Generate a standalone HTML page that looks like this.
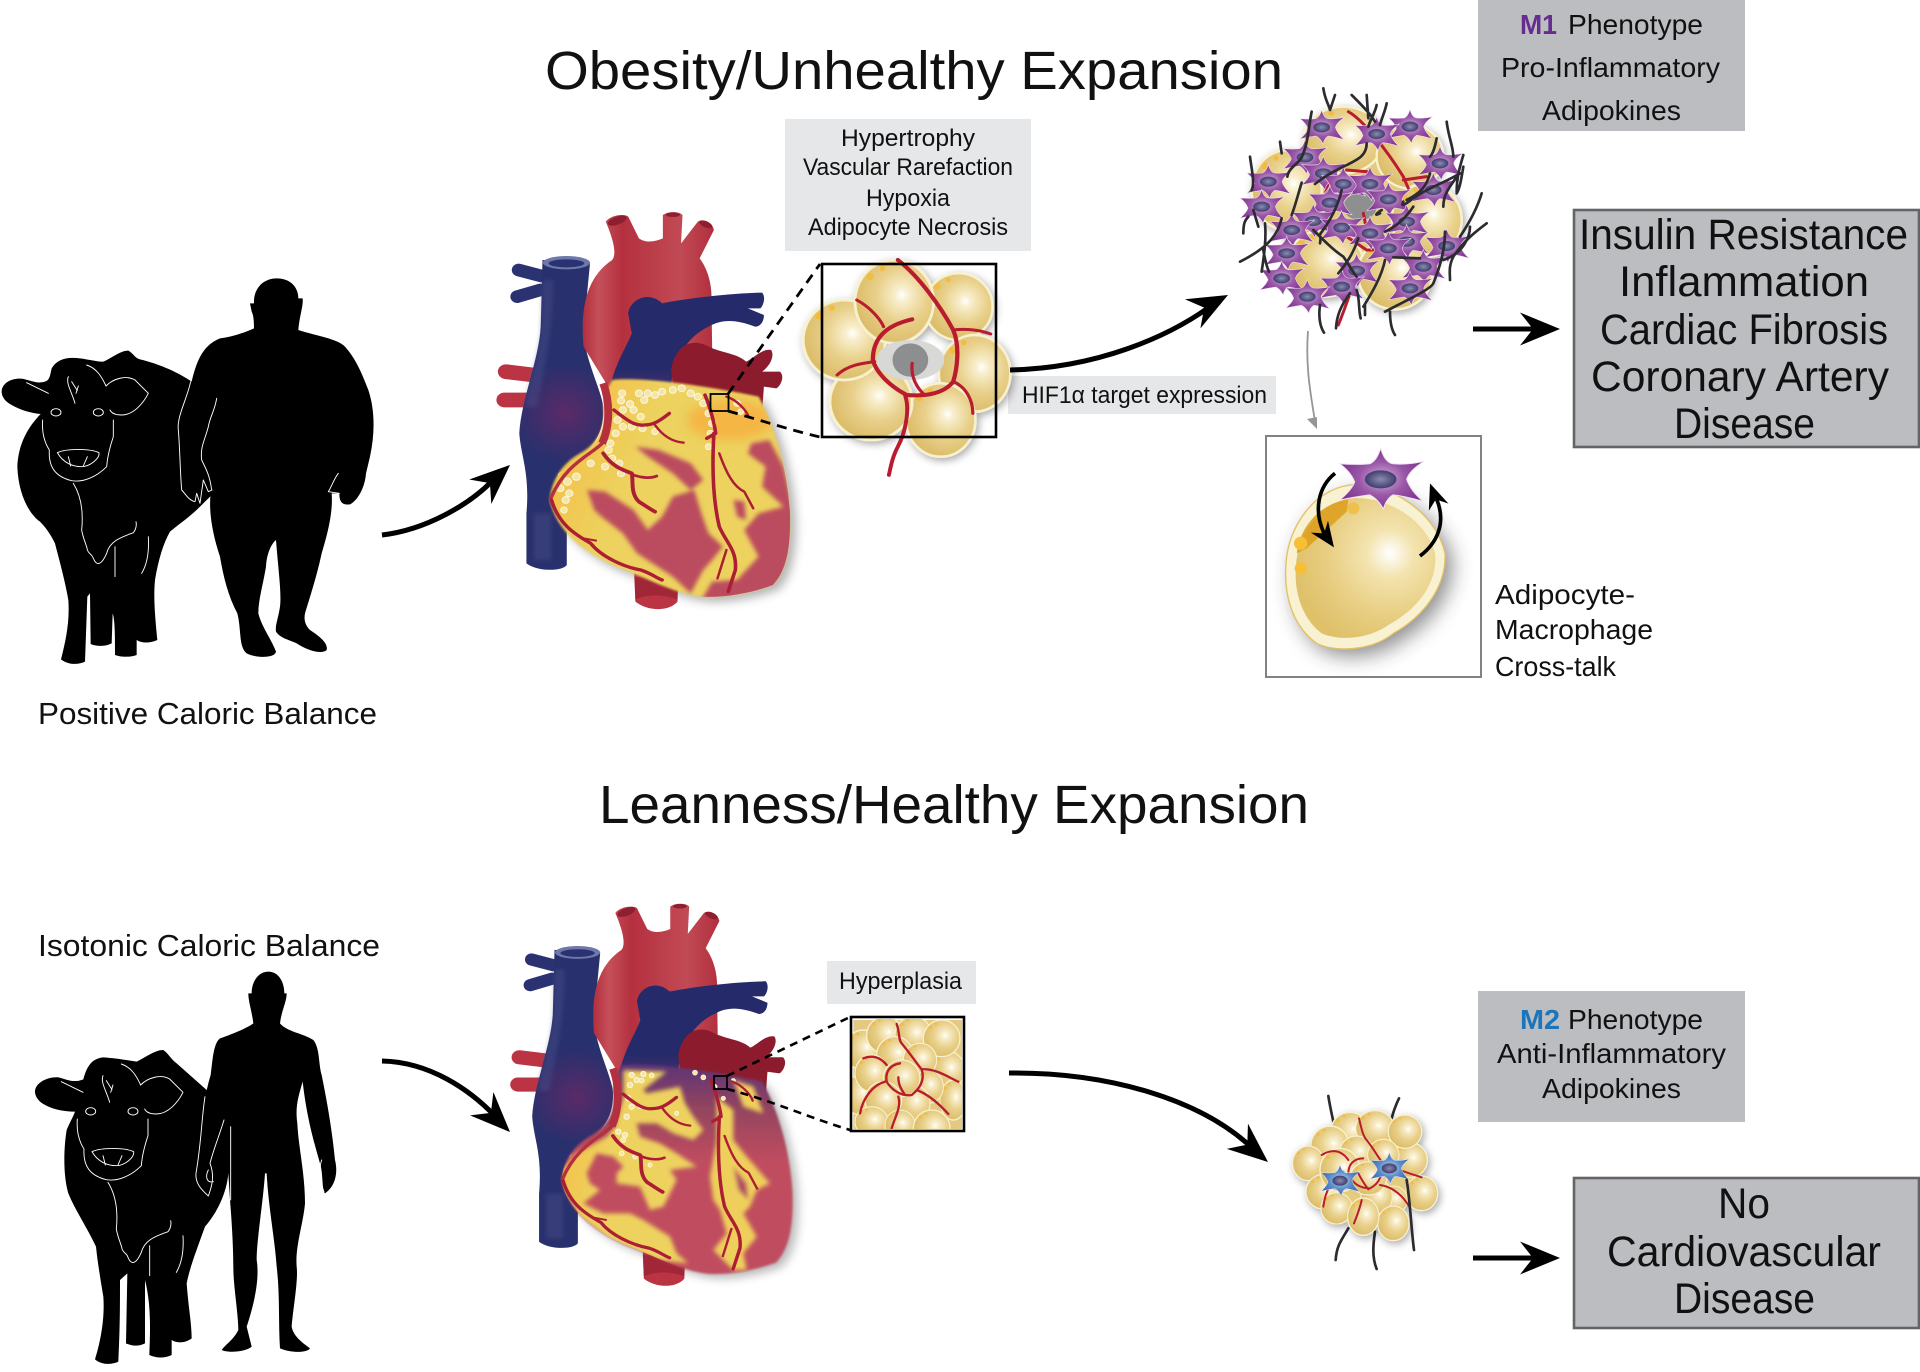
<!DOCTYPE html>
<html><head><meta charset="utf-8"><title>Adipose expansion</title>
<style>
html,body{margin:0;padding:0;background:#fff}
svg{display:block}
text{font-family:"Liberation Sans",sans-serif;fill:#111}
.a{stroke:#000;fill:none;stroke-width:5}
.w{stroke:#fff;fill:none;stroke-width:2.800;stroke-linecap:round;stroke-linejoin:round}
.art{stroke:#ab1e33;fill:none;stroke-linecap:round;stroke-linejoin:round}
.fib{stroke:#2c2c30;fill:none;stroke-width:8;stroke-linecap:round;stroke-linejoin:round}
.rv{stroke:#b81c2e;fill:none;stroke-linecap:round;stroke-linejoin:round}
.d{fill:#f4e6a6;stroke:#fbf6dc;stroke-width:3}
</style></head><body>
<svg xmlns="http://www.w3.org/2000/svg" width="1920" height="1372" viewBox="0 0 1920 1372">
<defs>
<filter id="b2" x="-20%" y="-20%" width="140%" height="140%"><feGaussianBlur stdDeviation="3"/></filter>
<filter id="b5" x="-20%" y="-20%" width="140%" height="140%"><feGaussianBlur stdDeviation="6"/></filter>
<filter id="b12" x="-30%" y="-30%" width="160%" height="160%"><feGaussianBlur stdDeviation="14"/></filter>
<filter id="b30" x="-40%" y="-40%" width="180%" height="180%"><feGaussianBlur stdDeviation="30"/></filter>
<filter id="ds" x="-20%" y="-20%" width="150%" height="150%"><feDropShadow dx="6" dy="8" stdDeviation="12" flood-color="#000" flood-opacity=".35"/></filter>
<radialGradient id="gc" cx=".6" cy=".42" r=".66"><stop offset="0" stop-color="#fff"/><stop offset=".14" stop-color="#f8eecb"/><stop offset=".5" stop-color="#e9d08a"/><stop offset="1" stop-color="#d8b862"/></radialGradient>
<radialGradient id="gi" gradientUnits="userSpaceOnUse" cx="420" cy="400" r="290"><stop offset="0" stop-color="#fff"/><stop offset=".25" stop-color="#f3e3ae"/><stop offset=".65" stop-color="#e8ce82"/><stop offset="1" stop-color="#dfc16a"/></radialGradient>
<radialGradient id="gm" cx=".5" cy=".5" r=".6"><stop offset="0" stop-color="#d4b4da"/><stop offset=".45" stop-color="#9a58a8"/><stop offset="1" stop-color="#76288a"/></radialGradient>
<radialGradient id="gb" cx=".5" cy=".5" r=".6"><stop offset="0" stop-color="#cfe0f3"/><stop offset=".45" stop-color="#5f8fcb"/><stop offset="1" stop-color="#2a60aa"/></radialGradient>
<radialGradient id="gn" cx=".5" cy=".5" r=".6"><stop offset="0" stop-color="#8d8cb0"/><stop offset="1" stop-color="#2f2d62"/></radialGradient>
<radialGradient id="gp" gradientUnits="userSpaceOnUse" cx="240" cy="700" r="150"><stop offset="0" stop-color="#5b2a68"/><stop offset="1" stop-color="#28306d"/></radialGradient>
<linearGradient id="gao" gradientUnits="userSpaceOnUse" x1="290" y1="0" x2="650" y2="0"><stop offset="0" stop-color="#b3303f"/><stop offset=".12" stop-color="#c5505a"/><stop offset=".3" stop-color="#b5303f"/><stop offset=".75" stop-color="#c14a55"/><stop offset="1" stop-color="#b3303f"/></linearGradient>
<linearGradient id="gpa" gradientUnits="userSpaceOnUse" x1="0" y1="340" x2="0" y2="640"><stop offset="0" stop-color="#242a6a"/><stop offset=".75" stop-color="#242a6a"/><stop offset="1" stop-color="#4c2f6a"/></linearGradient>
<linearGradient id="gor" x1="0" x2="1" y1="0" y2=".4"><stop offset="0" stop-color="#f6b93f"/><stop offset=".45" stop-color="#edd25f"/><stop offset="1" stop-color="#edd25f"/></linearGradient>
<linearGradient id="gtop" gradientUnits="userSpaceOnUse" x1="0" y1="590" x2="0" y2="900"><stop offset="0" stop-color="#5a3377"/><stop offset=".45" stop-color="#92445f"/><stop offset="1" stop-color="#c04d5f"/></linearGradient>

<path id="vent" d="M370,600C450,590 620,615 780,650C820,730 860,850 868,1000C870,1100 860,1170 820,1215C770,1235 690,1255 620,1250C540,1240 460,1190 380,1160C300,1120 215,1060 195,960C200,900 230,850 280,820C330,790 355,740 345,680C350,640 360,620 370,600Z"/>
<clipPath id="c1"><use href="#vent" transform="translate(480 180) scale(.35714 .33333)"/></clipPath>
<clipPath id="c2"><use href="#vent" transform="matrix(.3435 0 0 .3207 494.4 872.9)"/></clipPath>
<clipPath id="c3"><rect x="852" y="1019" width="110" height="110"/></clipPath>

<g id="cell"><circle r="100" fill="url(#gc)" stroke="#f8f1cf" stroke-width="7"/><circle cx="-62" cy="-60" r="9" fill="#f3bc3c"/><circle cx="-30" cy="-80" r="7" fill="#f3bc3c"/></g>
<path id="star" d="M0,-48Q6,-26 18,-24Q40,-22 64,-28Q42,-14 38,0Q44,18 62,34Q36,26 18,24Q8,30 4,46Q-4,30 -16,24Q-34,26 -60,32Q-42,16 -38,4Q-44,-12 -60,-24Q-36,-22 -16,-24Q-6,-28 0,-48Z"/>
<g id="mac"><use href="#star" fill="url(#gm)" stroke="#efe4f0" stroke-width="1.5" transform="scale(1.08)"/><ellipse rx="25" ry="15" fill="url(#gn)"/></g>
<g id="macb"><use href="#star" fill="url(#gb)" stroke="#e9f0f8" stroke-width="1.5"/><ellipse rx="24" ry="15" fill="url(#gn)"/></g>
<path id="ah" d="M0,0L-40,-16.5L-27,0L-40,16.5Z"/>

<g id="cowface">
<path class="w" d="M128,480C125,520 135,550 148,570C145,620 165,650 215,662C250,668 290,650 320,620C322,590 330,560 340,530L340,480"/>
<path class="w" d="M318,378C340,355 380,345 405,360L445,400C430,430 400,465 365,465C345,465 335,460 330,450"/>
<path class="w" d="M260,315C290,325 305,350 318,378M80,368L145,400"/>
<ellipse class="w" cx="168" cy="457" rx="15" ry="11"/><ellipse class="w" cx="295" cy="457" rx="15" ry="11"/>
<path class="w" d="M172,578C200,565 270,565 297,578C300,595 270,620 245,620C220,620 190,610 172,578ZM205,590L212,618M262,590L250,618"/>
<path class="w" d="M205,350C197,370 215,395 225,430M215,365L232,392M235,378L228,400"/>
<path class="w" d="M220,670C245,710 250,760 245,810C250,840 262,860 262,870C268,885 275,880 280,895C290,920 305,915 320,880C330,840 370,830 400,818C410,805 410,795 408,785"/>
<path class="w" d="M445,830C448,880 440,915 425,940M345,860L345,950"/>
</g>

<g id="hback">
<path d="M172,288L108,270M168,330L104,350" fill="none" stroke="#2a3272" stroke-width="38" stroke-linecap="round"/>
<path d="M150,585L72,575M140,660L68,660" fill="none" stroke="#bb3443" stroke-width="44" stroke-linecap="round"/>
<path d="M175,240L170,440C165,540 115,660 110,760C115,830 140,880 130,1000L130,1150C160,1175 230,1175 243,1155L243,1050L200,960L220,880C300,820 350,780 345,680C340,630 290,530 290,450L308,250Z" fill="url(#gp)"/>
<path d="M175,300L170,440C165,530 135,600 125,680L160,680C175,580 205,480 205,300Z" fill="#53578f" opacity=".35" filter="url(#b5)"/>
<path d="M150,1000L150,1140L200,1140L200,1000Z" fill="#53578f" opacity=".35" filter="url(#b5)"/>
<ellipse cx="242" cy="248" rx="66" ry="20" fill="#6f78aa"/><ellipse cx="242" cy="250" rx="50" ry="12" fill="#2a3272"/>
<path d="M290,500C280,380 300,290 370,240C385,220 370,170 352,125C365,105 405,100 415,110L445,175C465,190 490,185 512,175L512,105C530,92 560,95 567,105L563,190L610,125C625,115 650,125 655,150L615,235C640,270 650,320 648,360L650,500C650,600 500,650 370,640Z" fill="url(#gao)"/>
<ellipse cx="384" cy="122" rx="28" ry="12" fill="#8d1f30" transform="rotate(-22 384 122)"/><ellipse cx="540" cy="104" rx="20" ry="7" fill="#8d1f30"/><ellipse cx="632" cy="133" rx="20" ry="9" fill="#8d1f30" transform="rotate(25 632 133)"/>
<path d="M415,400C420,360 470,330 510,370C580,355 700,340 790,338C800,350 795,375 785,385L750,385L795,405C795,425 785,440 770,440C720,420 680,415 640,440C580,470 540,540 535,620L365,620C375,560 410,500 425,460Z" fill="url(#gpa)"/>
<path d="M535,570C545,500 590,470 640,500C680,520 720,520 745,545C765,535 790,505 815,510C825,525 815,555 790,575L840,575C855,590 840,620 830,625L795,620L790,690L540,610Z" fill="#8c1c2d"/>
<path d="M432,1180L435,1265C470,1295 530,1295 553,1265L555,1190Z" fill="#bb3443"/>
<path d="M432,1190L555,1200L553,1258C510,1242 470,1242 435,1258Z" fill="#8c1c2d" opacity=".55"/>
</g>

<g id="harts" class="art">
<path stroke="#b5303f" stroke-width="22" d="M345,610C362,660 367,730 342,790" stroke-linecap="butt"/>
<path stroke="#b5303f" stroke-width="10" d="M342,790C310,825 240,850 198,955"/>
<path stroke-width="10" d="M375,690C400,710 430,740 460,735C480,735 495,730 530,700"/>
<path stroke-width="7" d="M490,735C510,765 535,785 570,788"/>
<path stroke-width="11" d="M345,820C370,860 400,870 425,880C430,900 420,940 445,965C460,975 480,990 490,995"/>
<path stroke-width="8" d="M430,885C455,895 480,895 495,888"/>
<path stroke-width="10" d="M200,960C220,1030 260,1060 310,1090C340,1130 400,1160 450,1170C480,1180 495,1195 510,1200"/>
<path stroke-width="6" d="M290,1075L325,1082"/>
<path stroke-width="10" d="M630,645C640,670 655,720 660,760L635,775M655,760C650,850 650,950 670,1040C690,1090 720,1110 715,1170L695,1235"/>
<path stroke-width="7" d="M690,1110L665,1195M670,820C690,880 710,920 740,935L765,985M690,650C720,660 745,690 752,710"/>
</g>
</defs>

<rect width="1920" height="1372" fill="#fff"/>

<!-- ===== Titles ===== -->
<text x="545" y="89" font-size="54" textLength="738" lengthAdjust="spacingAndGlyphs">Obesity/Unhealthy Expansion</text>
<text x="599" y="823" font-size="54" textLength="710" lengthAdjust="spacingAndGlyphs">Leanness/Healthy Expansion</text>

<!-- ===== Top cow & man ===== -->
<g transform="translate(0 260) scale(.33333)">
<path d="M5,395C5,365 45,350 75,358C95,362 110,372 135,365C150,360 150,345 155,325C170,300 195,290 240,295C265,298 290,305 310,305C335,295 360,272 385,272C400,280 405,295 420,298C480,312 540,340 575,365L640,700L600,740C570,770 540,790 510,815C490,850 475,900 465,960C460,1010 465,1070 472,1140C450,1150 425,1150 410,1140L410,1185C390,1192 365,1192 345,1185C345,1130 345,1080 338,1060L335,1150C315,1160 290,1160 272,1152L270,1000L262,1010L255,1205C235,1215 205,1215 183,1198C195,1150 210,1090 205,1020C195,960 175,890 165,850C150,820 135,800 120,785C85,760 55,700 52,620C55,550 85,500 122,462C95,460 60,450 35,435C15,425 5,410 5,395Z"/>
<use href="#cowface"/>
<path d="M830,55C870,55 895,80 895,115L908,115C910,140 900,160 895,210C950,228 1010,235 1035,260C1070,300 1085,340 1105,390C1125,450 1125,520 1110,590L1098,640C1095,680 1075,720 1050,733C1030,735 1018,730 1018,700L995,700C1000,760 980,830 965,880C950,950 930,1010 915,1060C910,1085 920,1100 930,1110C960,1130 985,1150 980,1170C965,1185 920,1170 890,1150C870,1140 840,1135 828,1115C825,1095 835,1075 840,1040C845,1000 835,930 828,840C815,850 800,880 798,920C790,970 775,1020 775,1060C785,1100 815,1140 828,1175C825,1195 770,1195 740,1180C715,1160 725,1110 712,1060C685,1010 670,950 660,890C640,830 625,760 632,700L600,732L545,690L535,510C530,470 560,420 575,365C590,300 610,255 660,235C700,230 740,215 762,205C762,180 760,165 755,155L750,130L762,130C760,85 790,55 830,55Z"/>
<path class="w" d="M572,365C560,420 530,470 535,510C540,570 540,630 545,690C555,700 565,720 585,725L590,700L600,730L610,660L625,695L636,690M650,415C645,450 630,470 625,500C615,540 600,560 605,600C620,630 630,650 635,690M1015,640C1000,660 995,680 985,695L1018,700"/>
</g>
<text x="38" y="724" font-size="31" textLength="339" lengthAdjust="spacingAndGlyphs">Positive Caloric Balance</text>

<!-- ===== Top heart ===== -->
<g transform="translate(480 180) scale(.35714 .33333)">
<use href="#vent" fill="#555" opacity=".45" filter="url(#b12)" transform="translate(16 14)"/>
<use href="#hback"/>
<use href="#vent" fill="url(#gor)" filter="url(#b2)"/>
</g>
<g clip-path="url(#c1)"><g transform="translate(480 180) scale(.35714 .33333)">
<ellipse cx="700" cy="720" rx="120" ry="60" fill="#f5b342" opacity=".9" filter="url(#b12)"/>
<g fill="#bb4b5e" filter="url(#b5)">
<path d="M435,800L500,810L590,850L625,900L590,930L540,880L470,830Z"/>
<path d="M300,930L350,935L430,990L470,1050L510,1010L540,950L600,930L620,1000L640,1060L680,1100L650,1140L625,1170L590,1240L540,1190L440,1120L400,1060L340,1010L320,990Z"/>
<path d="M760,790L810,780L850,860L880,1000L880,1100L840,1230L700,1260L620,1260L650,1205L720,1200L780,1130L740,1050L780,1000L850,980L790,920L800,860L750,820Z"/>
<path d="M710,960L740,965L745,1020L720,1010Z"/>
</g>
<g class="d">
<circle cx="398" cy="640" r="10"/><circle cx="395" cy="662" r="10"/><circle cx="420" cy="672" r="10"/><circle cx="445" cy="640" r="10"/><circle cx="470" cy="640" r="10"/><circle cx="490" cy="645" r="10"/><circle cx="510" cy="635" r="10"/><circle cx="540" cy="630" r="10"/><circle cx="565" cy="625" r="10"/><circle cx="590" cy="640" r="10"/><circle cx="610" cy="650" r="10"/><circle cx="625" cy="670" r="10"/><circle cx="640" cy="700" r="10"/><circle cx="650" cy="730" r="10"/><circle cx="645" cy="760" r="9"/><circle cx="640" cy="800" r="9"/><circle cx="460" cy="660" r="10"/><circle cx="430" cy="690" r="10"/><circle cx="450" cy="710" r="10"/><circle cx="400" cy="690" r="10"/><circle cx="385" cy="720" r="10"/><circle cx="400" cy="740" r="10"/><circle cx="425" cy="740" r="10"/><circle cx="455" cy="745" r="10"/><circle cx="380" cy="760" r="10"/><circle cx="365" cy="790" r="10"/><circle cx="360" cy="810" r="10"/><circle cx="370" cy="835" r="10"/><circle cx="310" cy="850" r="10"/><circle cx="390" cy="850" r="10"/><circle cx="350" cy="860" r="10"/><circle cx="395" cy="880" r="10"/><circle cx="270" cy="890" r="11"/><circle cx="245" cy="905" r="11"/><circle cx="225" cy="925" r="10"/><circle cx="250" cy="940" r="10"/><circle cx="240" cy="960" r="10"/><circle cx="235" cy="990" r="9"/><circle cx="490" cy="755" r="9"/><circle cx="720" cy="670" r="9"/><circle cx="730" cy="695" r="8"/>
</g>
</g></g>
<use href="#harts" transform="translate(480 180) scale(.35714 .33333)"/>

<!-- dashed zoom lines top + small square -->
<rect x="710.500" y="394" width="18" height="17" fill="none" stroke="#000" stroke-width="1.800"/>
<path d="M728,394L820,264M728,411C760,420 790,430 820,437" fill="none" stroke="#000" stroke-width="2.800" stroke-dasharray="10 7"/>

<!-- info box -->
<rect x="785" y="119" width="246" height="132" fill="#e6e7e8"/>
<text x="841" y="146" font-size="24" textLength="134" lengthAdjust="spacingAndGlyphs">Hypertrophy</text>
<text x="803" y="175" font-size="24" textLength="210" lengthAdjust="spacingAndGlyphs">Vascular Rarefaction</text>
<text x="866" y="206" font-size="24" textLength="84" lengthAdjust="spacingAndGlyphs">Hypoxia</text>
<text x="808" y="235" font-size="24" textLength="200" lengthAdjust="spacingAndGlyphs">Adipocyte Necrosis</text>

<!-- HIF box -->
<rect x="1008" y="376" width="268" height="38" fill="#e6e7e8"/>
<text x="1022" y="403" font-size="24" textLength="245" lengthAdjust="spacingAndGlyphs">HIF1α target expression</text>

<!-- Zoomed adipocytes top -->
<rect x="822" y="264" width="174" height="173" fill="#fff"/>
<g transform="translate(480 180) scale(.35714 .33333)">
<g filter="url(#ds)">
<use href="#cell" transform="translate(1340 380) scale(.95 1)"/>
<use href="#cell" transform="translate(1385 580) scale(1 1.15)"/>
<use href="#cell" transform="translate(1290 720) scale(.97 1.1)"/>
<use href="#cell" transform="translate(1095 665) scale(1.15 1.15)"/>
<use href="#cell" transform="translate(1020 480) scale(1.15 1.2)"/>
<use href="#cell" transform="translate(1160 365) scale(1.1 1.25)"/>
</g>
<ellipse cx="1205" cy="540" rx="95" ry="60" fill="#d8d8d6"/>
<circle cx="1205" cy="540" r="50" fill="#8c8e90"/>
<g class="rv">
<path stroke-width="12" d="M1170,240C1230,290 1290,380 1325,450C1345,500 1335,570 1325,605C1300,640 1250,650 1195,645C1150,620 1110,580 1100,540C1100,490 1120,440 1210,418"/>
<path stroke-width="9" d="M1055,360C1090,380 1120,415 1130,440M1000,585C1030,555 1070,550 1105,545M1325,450C1360,445 1400,450 1430,462M1210,550C1205,600 1230,630 1245,645M1325,605C1360,620 1380,660 1380,700"/>
<path stroke-width="11" d="M1190,645C1205,690 1190,760 1170,800C1155,830 1150,860 1145,885"/>
</g>
</g>
<rect x="822" y="264" width="174" height="173" fill="none" stroke="#000" stroke-width="2.600"/>

<!-- arrows top -->
<path class="a" d="M382,535C425,530 470,505 495,478"/><use href="#ah" transform="translate(510 465) rotate(-42)"/>
<path class="a" d="M1010,370C1100,368 1170,335 1208,308"/><use href="#ah" transform="translate(1228 295) rotate(-28)"/>
<path class="a" d="M1473,329H1535"/><use href="#ah" transform="translate(1560 329)"/>
<path d="M1308,331C1305,370 1312,400 1315,422" fill="none" stroke="#939598" stroke-width="1.800"/>
<path d="M1317,429L1307,419L1317,417Z" fill="#939598"/>

<!-- M1 cluster -->
<g transform="translate(1200 60) scale(.33333)">
<g filter="url(#ds)">
<ellipse cx="470" cy="440" rx="240" ry="235" fill="#e5cb80"/>
<use href="#cell" transform="translate(430 240) scale(1.2 1)"/>
<use href="#cell" transform="translate(630 290) scale(1 .95)"/>
<use href="#cell" transform="translate(260 390) scale(1.05 1.2)"/>
<use href="#cell" transform="translate(680 480) scale(1.05 1.1)"/>
<use href="#cell" transform="translate(375 610) scale(1.15 1)"/>
<use href="#cell" transform="translate(585 640) scale(1.12 1.08)"/>
</g>
<ellipse cx="480" cy="440" rx="50" ry="40" fill="#8e8f91"/>
<g class="rv" stroke-width="9">
<path d="M445,155C490,180 560,270 610,350L625,385M610,360L680,350M440,330L500,335M415,795C425,770 440,730 450,700M490,460L500,510M440,530L500,570L560,570M385,370L370,420"/>
</g>
<use href="#mac" transform="translate(365 202)"/><use href="#mac" transform="translate(630 200)"/><use href="#mac" transform="translate(530 222)"/><use href="#mac" transform="translate(315 292)"/><use href="#mac" transform="translate(370 340)"/><use href="#mac" transform="translate(205 365)"/><use href="#mac" transform="translate(430 372)"/><use href="#mac" transform="translate(510 372)"/><use href="#mac" transform="translate(720 310)"/><use href="#mac" transform="translate(700 390)"/><use href="#mac" transform="translate(185 440)"/><use href="#mac" transform="translate(390 428)"/><use href="#mac" transform="translate(565 418)"/><use href="#mac" transform="translate(340 483)"/><use href="#mac" transform="translate(275 510)"/><use href="#mac" transform="translate(620 485)"/><use href="#mac" transform="translate(425 503)"/><use href="#mac" transform="translate(510 520)"/><use href="#mac" transform="translate(620 545)"/><use href="#mac" transform="translate(565 565)"/><use href="#mac" transform="translate(740 558)"/><use href="#mac" transform="translate(260 580)"/><use href="#mac" transform="translate(470 632)"/><use href="#mac" transform="translate(670 620)"/><use href="#mac" transform="translate(245 655)"/><use href="#mac" transform="translate(425 680)"/><use href="#mac" transform="translate(630 685)"/><use href="#mac" transform="translate(322 710)"/>
<path class="fib" d="M370,85C375,120 385,130 390,150L405,105M455,105C480,130 510,160 525,185M500,105L505,175M530,135C525,160 510,180 505,200M560,130C555,155 545,175 540,195M335,155C325,200 325,260 300,300C280,320 265,330 262,350M240,245L245,280M150,290C155,330 165,370 155,390M500,250C500,290 470,300 420,325C390,340 360,360 345,372M740,185C745,230 760,260 760,290M710,235C705,260 700,280 690,290M790,285C780,320 770,350 770,395M790,320C785,350 780,385 770,400M780,340C730,370 680,385 640,415C620,430 600,445 610,425M690,340C680,380 660,400 620,420M730,440C730,410 740,390 775,345M845,400C830,450 800,500 780,530M860,490C820,520 790,545 760,590C745,620 750,640 750,660M810,500C810,530 790,580 730,600M305,368C295,400 285,440 275,465M425,390C415,440 385,490 362,520C355,535 365,520 360,550M545,450C530,460 520,470 540,460M640,440C620,470 590,500 555,515M340,510C370,540 400,570 430,590C445,610 460,640 470,650M130,520C130,490 135,480 145,470M160,450L175,500M245,475C235,520 210,560 120,605M195,490C200,540 190,600 185,635M190,570C195,600 200,620 207,635M475,535C460,580 440,610 415,640M555,600C545,650 515,700 490,740M580,592L660,595M735,515C735,570 720,620 700,670C690,690 620,720 555,755M570,755C570,790 575,810 585,825M360,735C355,770 360,800 372,818M450,700C420,740 410,770 408,805M470,690C480,720 475,750 482,775M495,735L495,765"/>
</g>

<!-- Inset adipocyte -->
<rect x="1266" y="436" width="215" height="241" fill="#fff" stroke="#808285" stroke-width="2"/>
<g transform="translate(1250 420) scale(.33333)">
<path d="M300,195C420,185 560,280 585,400C590,500 520,590 430,640C370,690 260,700 200,670C130,620 100,530 108,430C115,320 190,210 300,195Z" fill="#333" opacity=".55" filter="url(#b30)" transform="translate(22 22)"/>
<path d="M300,195C420,185 560,280 585,400C590,500 520,590 430,640C370,690 260,700 200,670C130,620 100,530 108,430C115,320 190,210 300,195Z" fill="#f9f2d2" stroke="#e4c063" stroke-width="4"/>
<path d="M300,235C410,225 530,300 555,400C565,490 500,570 415,615C360,655 270,665 215,640C160,600 130,520 138,435C145,340 210,250 300,235Z" fill="url(#gi)"/>
<path d="M140,400C150,320 210,250 295,238L290,275L170,385Z" fill="#dc9d1b" opacity=".85"/>
<circle cx="152" cy="370" r="20" fill="#f6bf35"/><circle cx="152" cy="445" r="18" fill="#f6bf35"/><circle cx="310" cy="265" r="18" fill="#f0c04f"/>
<use href="#mac" transform="translate(392 178) scale(1.9 1.8)"/>
<path d="M255,160C205,200 190,270 222,340" fill="none" stroke="#000" stroke-width="11"/>
<use href="#ah" transform="translate(252 382) rotate(55) scale(1.9 1.9)"/>
<path d="M510,408C560,370 590,310 560,238" fill="none" stroke="#000" stroke-width="11"/>
<use href="#ah" transform="translate(540 190) rotate(-110) scale(1.9 1.9)"/>
</g>
<text x="1495" y="604" font-size="28" textLength="140" lengthAdjust="spacingAndGlyphs">Adipocyte-</text>
<text x="1495" y="639" font-size="28" textLength="158" lengthAdjust="spacingAndGlyphs">Macrophage</text>
<text x="1495" y="676" font-size="28" textLength="121" lengthAdjust="spacingAndGlyphs">Cross-talk</text>

<!-- M1 box -->
<rect x="1478" y="0" width="267" height="131" fill="#bcbdc0"/>
<text x="1520" y="34" font-size="28" font-weight="bold" style="fill:#662d91" textLength="37" lengthAdjust="spacingAndGlyphs">M1</text>
<text x="1568" y="34" font-size="28" textLength="135" lengthAdjust="spacingAndGlyphs">Phenotype</text>
<text x="1501" y="77" font-size="28" textLength="219" lengthAdjust="spacingAndGlyphs">Pro-Inflammatory</text>
<text x="1542" y="120" font-size="28" textLength="139" lengthAdjust="spacingAndGlyphs">Adipokines</text>

<!-- Outcome box top -->
<rect x="1574" y="210" width="345" height="237" fill="#bcbdc0" stroke="#636466" stroke-width="2.600"/>
<text x="1579" y="249" font-size="43" textLength="329" lengthAdjust="spacingAndGlyphs">Insulin Resistance</text>
<text x="1619" y="296" font-size="43" textLength="250" lengthAdjust="spacingAndGlyphs">Inflammation</text>
<text x="1600" y="344" font-size="43" textLength="288" lengthAdjust="spacingAndGlyphs">Cardiac Fibrosis</text>
<text x="1591" y="391" font-size="43" textLength="298" lengthAdjust="spacingAndGlyphs">Coronary Artery</text>
<text x="1674" y="438" font-size="43" textLength="141" lengthAdjust="spacingAndGlyphs">Disease</text>

<!-- ===== Bottom cow & man ===== -->
<g transform="translate(20 960) scale(.33333)">
<path d="M45,395C45,370 80,350 115,352C140,358 160,370 190,358C200,320 215,295 250,292C290,295 320,300 350,305C380,290 405,270 430,270C445,280 450,295 470,310L560,390L610,480C625,520 635,590 625,640C620,700 590,760 555,800C530,870 510,920 500,970C505,1040 515,1090 515,1135C495,1150 470,1150 455,1140L455,1185C435,1195 410,1195 388,1185C390,1120 395,1040 375,960L375,1150C355,1160 335,1158 318,1150L322,940L300,960C300,1040 300,1100 295,1205C275,1215 245,1215 225,1198C240,1150 255,1080 250,1010C240,950 232,900 228,860C200,800 165,750 145,700C130,650 130,570 140,510C148,490 160,470 165,455C125,455 85,445 60,425C50,415 45,405 45,395Z"/>
<use href="#cowface" transform="translate(44 -3)"/>
<path d="M745,35C775,35 793,65 793,100L800,100C800,125 785,150 780,190C800,215 850,220 880,240C900,265 895,310 905,345C920,420 935,500 945,600C955,640 945,680 915,700C905,690 910,640 900,610C880,540 860,470 848,365C835,410 825,440 832,490C835,560 855,640 855,730C850,790 825,860 830,920C835,960 820,1040 815,1100C820,1130 850,1150 870,1165C860,1180 810,1178 780,1165C775,1090 780,1000 770,920C765,840 745,740 740,640L735,640C730,720 710,840 710,900C720,960 700,1040 680,1100L695,1160C680,1175 625,1180 605,1170C620,1150 640,1140 655,1110C655,1060 640,980 640,920C640,860 635,780 630,720L625,640L570,705L528,650L545,500C550,450 555,400 572,345C578,300 580,250 600,235C630,225 680,205 700,190C695,150 685,125 685,100L695,100C695,65 715,35 745,35Z"/>
<path class="w" d="M555,410C545,470 545,540 528,640C525,670 545,690 565,708C575,680 585,650 570,610C580,570 600,520 612,480M565,630C555,650 560,670 580,665M905,600C895,630 900,670 912,695M632,500L632,720"/>
</g>
<text x="38" y="956" font-size="31" textLength="342" lengthAdjust="spacingAndGlyphs">Isotonic Caloric Balance</text>

<!-- ===== Bottom heart ===== -->
<g transform="matrix(.3435 0 0 .3207 494.4 872.9)">
<use href="#vent" fill="#555" opacity=".4" filter="url(#b12)" transform="translate(16 14)"/>
<use href="#hback"/>
<use href="#vent" fill="url(#gtop)" filter="url(#b2)"/>
</g>
<g clip-path="url(#c2)"><g transform="translate(500 890) scale(.33333)">
<g filter="url(#b5)">
<path fill="url(#gor)" d="M370,540L500,545L430,600L440,610L540,590L555,640L580,680L610,720L580,750L520,730L470,700L410,700L420,740L480,760L530,790L590,830L510,840L530,870L490,950L450,960L420,890L350,880L350,850L370,830L340,800L290,790L260,850L270,880L300,900L250,940L310,970L390,970L430,990L510,1040L530,1090L565,1120L470,1110L330,1050L240,980L190,900L185,840L230,790L320,740L345,710L370,620Z"/>
<path fill="#efcf5c" d="M650,620L700,660L700,750L740,800L810,880L770,900L750,950L730,970L770,1040L730,1090L740,1140L700,1140L640,1080L680,1030L660,960L640,930L630,860L650,750Z"/>
<path fill="#efcf5c" d="M700,570L760,590L790,670L730,650Z"/>
<path fill="#b44a62" d="M700,830L740,880L745,930L715,900Z"/>
</g>
<g class="d">
<circle cx="395" cy="555" r="8"/><circle cx="430" cy="552" r="8"/><circle cx="455" cy="556" r="7"/><circle cx="410" cy="570" r="8"/><circle cx="390" cy="585" r="8"/><circle cx="425" cy="572" r="7"/><circle cx="385" cy="625" r="8"/><circle cx="395" cy="650" r="8"/><circle cx="380" cy="680" r="8"/><circle cx="420" cy="650" r="6"/><circle cx="355" cy="725" r="8"/><circle cx="375" cy="735" r="8"/><circle cx="370" cy="750" r="7"/><circle cx="365" cy="790" r="7"/><circle cx="405" cy="800" r="7"/><circle cx="450" cy="825" r="6"/><circle cx="585" cy="548" r="7"/><circle cx="610" cy="562" r="7"/><circle cx="645" cy="590" r="6"/><circle cx="700" cy="572" r="6"/><circle cx="670" cy="625" r="6"/><circle cx="530" cy="670" r="6"/>
</g>
</g></g>
<use href="#harts" transform="matrix(.3435 0 0 .3207 494.4 872.9)"/>

<rect x="714" y="1076" width="13" height="13" fill="none" stroke="#000" stroke-width="1.800"/>
<path d="M727,1076L850,1017M727,1089C770,1100 810,1118 850,1130" fill="none" stroke="#000" stroke-width="2.600" stroke-dasharray="8 6"/>

<rect x="827" y="961" width="149" height="43" fill="#e6e7e8"/>
<text x="839" y="989" font-size="24" textLength="123" lengthAdjust="spacingAndGlyphs">Hyperplasia</text>

<rect x="851" y="1017" width="113" height="114" fill="#fff"/>
<g clip-path="url(#c3)"><g transform="translate(830 1000) scale(.33333)">
<rect x="70" y="60" width="330" height="330" fill="#e4ca80"/>
<use href="#cell" transform="translate(100 150) scale(.56 .6)"/><use href="#cell" transform="translate(165 105) scale(.55 .55)"/><use href="#cell" transform="translate(250 105) scale(.55 .55)"/><use href="#cell" transform="translate(355 210) scale(.5 .55)"/><use href="#cell" transform="translate(335 115) scale(.55 .55)"/><use href="#cell" transform="translate(195 165) scale(.55 .55)"/><use href="#cell" transform="translate(270 180) scale(.5 .5)"/><use href="#cell" transform="translate(90 285) scale(.45 .6)"/><use href="#cell" transform="translate(370 300) scale(.4 .6)"/><use href="#cell" transform="translate(125 220) scale(.5 .55)"/><use href="#cell" transform="translate(295 260) scale(.45 .5)"/><use href="#cell" transform="translate(250 310) scale(.5 .55)"/><use href="#cell" transform="translate(215 235) scale(.55 .55)"/><use href="#cell" transform="translate(160 300) scale(.55 .55)"/><use href="#cell" transform="translate(125 365) scale(.5 .45)"/><use href="#cell" transform="translate(210 375) scale(.45 .45)"/><use href="#cell" transform="translate(305 385) scale(.55 .55)"/>
<g class="rv" stroke-width="7">
<path d="M200,72C210,100 205,120 215,130C240,160 260,190 275,208C285,240 270,265 245,285C215,290 185,270 170,245C165,215 180,195 210,190M90,340C100,290 130,255 165,245M100,175C125,165 150,170 170,195M275,208C320,205 360,235 385,245M260,270C300,285 335,320 355,342M205,232C205,260 220,275 225,285M205,290C215,320 195,350 185,385"/>
</g>
</g></g>
<rect x="851" y="1017" width="113" height="114" fill="none" stroke="#000" stroke-width="2.600"/>

<!-- arrows bottom -->
<path class="a" d="M382,1061C430,1062 470,1090 495,1116"/><use href="#ah" transform="translate(510 1132) rotate(45)"/>
<path class="a" d="M1009,1073C1110,1072 1200,1100 1250,1146"/><use href="#ah" transform="translate(1268 1162) rotate(40)"/>
<path class="a" d="M1473,1258H1535"/><use href="#ah" transform="translate(1560 1258)"/>

<!-- M2 cluster -->
<g transform="translate(1280 1090) scale(.33333)">
<path class="fib" d="M145,18C150,50 155,70 160,95M357,25C345,50 340,65 335,85M205,415C185,450 170,465 167,510M285,425C280,460 275,500 290,537"/>
<g filter="url(#ds)">
<ellipse cx="255" cy="250" rx="150" ry="160" fill="#e5cb80"/>
<use href="#cell" transform="translate(210 125) scale(.58 .58)"/><use href="#cell" transform="translate(150 170) scale(.58 .62)"/><use href="#cell" transform="translate(285 115) scale(.58 .53)"/><use href="#cell" transform="translate(390 210) scale(.52 .52)"/><use href="#cell" transform="translate(375 125) scale(.5 .5)"/><use href="#cell" transform="translate(230 190) scale(.52 .52)"/><use href="#cell" transform="translate(85 220) scale(.47 .52)"/><use href="#cell" transform="translate(310 195) scale(.47 .47)"/><use href="#cell" transform="translate(425 310) scale(.48 .52)"/><use href="#cell" transform="translate(130 305) scale(.52 .52)"/><use href="#cell" transform="translate(180 240) scale(.6 .65)"/><use href="#cell" transform="translate(340 330) scale(.42 .42)"/><use href="#cell" transform="translate(290 320) scale(.47 .52)"/><use href="#cell" transform="translate(265 265) scale(.55 .5)"/><use href="#cell" transform="translate(170 355) scale(.47 .47)"/><use href="#cell" transform="translate(340 400) scale(.47 .52)"/><use href="#cell" transform="translate(250 380) scale(.47 .56)"/>
</g>
<g class="rv" stroke-width="6">
<path d="M237,85C245,120 250,140 260,150C280,175 290,195 305,215C310,250 300,280 270,295C240,295 215,280 205,250C205,225 220,205 250,205M130,350C135,310 150,270 190,245M125,195C150,180 180,175 205,210M300,285C340,290 370,320 388,350M360,240C385,250 405,255 425,262M235,250C245,270 255,285 265,298M245,330C240,355 230,380 222,400"/>
</g>
<use href="#macb" transform="translate(180 272) scale(.95 1)"/><use href="#macb" transform="translate(328 235) scale(.95 1)"/>
<path class="fib" d="M380,270C390,330 395,430 402,480"/>
</g>

<!-- M2 box -->
<rect x="1478" y="991" width="267" height="131" fill="#bcbdc0"/>
<text x="1520" y="1029" font-size="28" font-weight="bold" style="fill:#1b75bc" textLength="40" lengthAdjust="spacingAndGlyphs">M2</text>
<text x="1568" y="1029" font-size="28" textLength="135" lengthAdjust="spacingAndGlyphs">Phenotype</text>
<text x="1497" y="1063" font-size="28" textLength="229" lengthAdjust="spacingAndGlyphs">Anti-Inflammatory</text>
<text x="1542" y="1098" font-size="28" textLength="139" lengthAdjust="spacingAndGlyphs">Adipokines</text>

<!-- Outcome box bottom -->
<rect x="1574" y="1178" width="345" height="150" fill="#bcbdc0" stroke="#636466" stroke-width="2.600"/>
<text x="1718" y="1218" font-size="43" textLength="52" lengthAdjust="spacingAndGlyphs">No</text>
<text x="1607" y="1266" font-size="43" textLength="274" lengthAdjust="spacingAndGlyphs">Cardiovascular</text>
<text x="1674" y="1313" font-size="43" textLength="141" lengthAdjust="spacingAndGlyphs">Disease</text>
</svg>
</body></html>
